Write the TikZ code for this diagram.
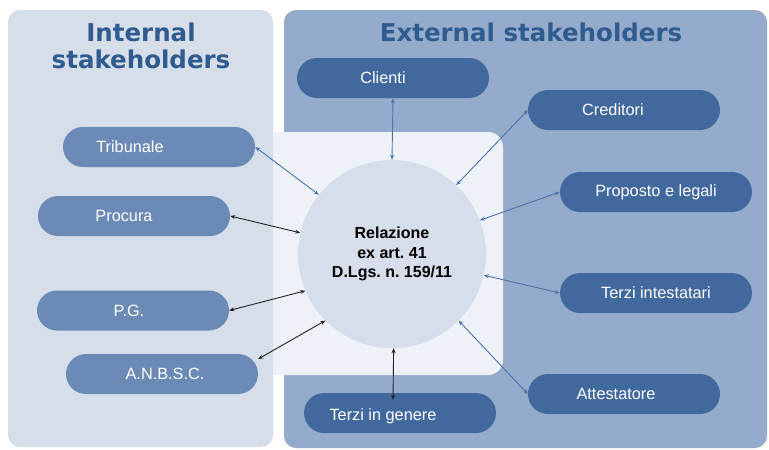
\documentclass[tikz,border=0pt]{standalone}
\usepackage{fontspec}
\setmainfont{Liberation Sans}
\newfontfamily\titlefont{DejaVu Sans}
\usetikzlibrary{arrows.meta,calc}
\definecolor{leftbg}{HTML}{D6DEEA}
\definecolor{rightbg}{HTML}{95ABCB}
\definecolor{innerbg}{HTML}{EEF2F8}
\definecolor{circbg}{HTML}{D5DEEA}
\definecolor{ipillc}{HTML}{6B8BB6}
\definecolor{epillc}{HTML}{41699D}
\definecolor{titlec}{HTML}{2F5B8F}
\definecolor{barrow}{HTML}{4A74AA}
\definecolor{karrow}{HTML}{222222}
\frenchspacing
\begin{document}
\begin{tikzpicture}[x=1pt,y=-1pt,
  pill/.style={rectangle, rounded corners=20pt, minimum width=192pt, minimum height=40pt, inner sep=0pt},
  ipill/.style={pill, fill=ipillc},
  epill/.style={pill, fill=epillc},
  ptext/.style={text=white, font=\fontsize{16.3}{19}\selectfont},
  title/.style={text=titlec, font=\titlefont\bfseries\fontsize{24.5}{27}\selectfont, align=center},
  conn/.style={line width=0.9pt, {Stealth[length=5pt,width=4pt]}-{Stealth[length=5pt,width=4pt]}},
  bconn/.style={conn, draw=barrow},
  kconn/.style={conn, draw=karrow}]
\useasboundingbox (0,0) rectangle (769,450);
\fill[white] (0,0) rectangle (769,450);
% panels
\fill[rightbg, rounded corners=12pt] (284,10) rectangle (767,448);
\fill[innerbg, rounded corners=15pt] (262,132) rectangle (503,375);
\fill[leftbg, rounded corners=12pt] (8,10) rectangle (273,447);
% titles
\node[title] (tint) at (141,46) {Internal\\stakeholders};
\node[title] (text) at (531,32) {External stakeholders};
% centre
\node[circle, fill=circbg, minimum size=188pt, inner sep=0pt, align=center,
  font=\bfseries\fontsize{16}{19.5}\selectfont] (rel) at (392,254)
  {Relazione\\ex art. 41\\D.Lgs. n. 159/11};
% internal
\node[ipill, label={[ptext, xshift=-29pt]center:Tribunale}] (trib) at (159,147) {};
\node[ipill, label={[ptext, xshift=-10pt]center:Procura}] (proc) at (134,216) {};
\node[ipill, label={[ptext, xshift=-4pt]center:P.G.}] (pg) at (133,310.5) {};
\node[ipill, label={[ptext, xshift=3pt]center:A.N.B.S.C.}] (anbsc) at (162,374) {};
% external
\node[epill, label={[ptext, xshift=-10pt]center:Clienti}] (cli) at (393,78) {};
\node[epill, label={[ptext, xshift=-11pt]center:Creditori}] (cred) at (624,110) {};
\node[epill, label={[ptext]center:Proposto e legali}] (prop) at (656,192) {};
\node[epill, label={[ptext]center:Terzi intestatari}] (tint2) at (656,293) {};
\node[epill, label={[ptext, xshift=-8pt]center:Attestatore}] (att) at (624,394) {};
\node[epill, label={[ptext, xshift=-17pt, yshift=-3pt]center:Terzi in genere}] (gen) at (400,413) {};
\coordinate (anbscE) at ($(anbsc.east)+(0,-15)$);
\coordinate (genT) at ($(gen.north)+(-7,7)$);
% connectors
\draw[bconn] (trib.east) -- (rel.141);
\draw[kconn] (proc.east) -- (rel.167);
\draw[kconn] (pg.east) -- (rel.203);
\draw[kconn] (anbscE) -- (rel.225);
\draw[bconn] (cli.south) -- (rel.90);
\draw[bconn] (cred.west) -- (rel.47);
\draw[bconn] (prop.west) -- (rel.21);
\draw[bconn] (tint2.west) -- (rel.-13);
\draw[bconn] (att.west) -- (rel.-45);
\draw[kconn] (genT) -- (rel.-89);
\end{tikzpicture}
\end{document}
